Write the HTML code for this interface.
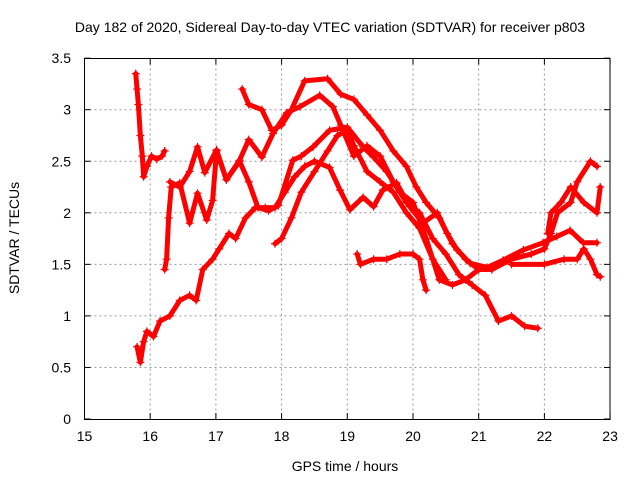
<!DOCTYPE html>
<html><head><meta charset="utf-8"><style>
body{margin:0;background:#fff;}
svg{display:block;font-family:"Liberation Sans",sans-serif;}
</style></head><body>
<svg id="chart" width="640" height="480" viewBox="0 0 640 480">
<text x="330" y="32" font-size="14" text-anchor="middle">Day 182 of 2020, Sidereal Day-to-day VTEC variation (SDTVAR) for receiver p803</text>
<text x="345" y="471" font-size="14" text-anchor="middle">GPS time / hours</text>
<text x="0" y="0" font-size="14" text-anchor="middle" transform="translate(19,238) rotate(-90)">SDTVAR / TECUs</text>
<g id="grid"></g><g id="ticks"></g><g id="marks"></g>
<rect x="84.5" y="58.5" width="525.5" height="361" fill="none" stroke="#000" stroke-width="1"/>
</svg>
<script>
const xTicks=[15,16,17,18,19,20,21,22,23];
const yTicks=[0,0.5,1,1.5,2,2.5,3,3.5];
const yTickLabels=["0","0.5","1","1.5","2","2.5","3","3.5"];
const track1=[[15.78,3.35],[15.8,3.2],[15.82,3.05],[15.85,2.75],[15.88,2.55],[15.9,2.35],[15.95,2.45],[16.02,2.55],[16.1,2.52],[16.18,2.55],[16.22,2.6]];
const track2=[[15.8,0.7],[15.85,0.55],[15.9,0.75],[15.95,0.85],[16.05,0.8],[16.15,0.95],[16.3,1.0],[16.45,1.15],[16.6,1.2],[16.7,1.15],[16.8,1.45],[16.95,1.55],[17.05,1.65],[17.2,1.8],[17.3,1.75],[17.45,1.95],[17.6,2.05],[17.75,2.05],[17.9,2.05],[18.05,2.2],[18.2,2.35],[18.35,2.45],[18.5,2.5],[18.73,2.44],[18.89,2.22],[19.04,2.03],[19.24,2.15],[19.4,2.06],[19.54,2.22],[19.75,2.29],[19.95,2.06],[20.15,1.9],[20.37,2.0],[20.52,1.8],[20.67,1.64],[20.87,1.51],[21.13,1.47],[21.37,1.54],[21.68,1.64],[21.98,1.71],[22.19,1.77],[22.39,1.83],[22.59,1.71],[22.8,1.71]];
const track3=[[16.22,1.45],[16.25,1.55],[16.28,1.95],[16.32,2.25],[16.45,2.29],[16.6,1.9],[16.72,2.19],[16.86,1.93],[16.95,2.12],[17.01,2.6],[17.16,2.32],[17.36,2.51],[17.5,2.71],[17.7,2.54],[17.87,2.77],[18.08,2.97],[18.28,3.03],[18.58,3.14],[18.78,3.03],[18.9,2.85],[19.1,2.55],[19.3,2.65],[19.5,2.55],[19.7,2.3],[19.9,2.1],[20.1,2.0],[20.3,1.75],[20.5,1.6],[20.7,1.4],[20.9,1.3],[21.1,1.2],[21.3,0.95],[21.5,1.0],[21.7,0.9],[21.9,0.88]];
const track4=[[16.3,2.3],[16.45,2.25],[16.6,2.4],[16.72,2.64],[16.83,2.39],[17.01,2.61],[17.16,2.32],[17.36,2.5],[17.5,2.3],[17.64,2.05],[17.8,2.02],[17.95,2.07],[18.17,2.51],[18.3,2.55],[18.48,2.64],[18.73,2.8],[19.0,2.83],[19.24,2.64],[19.4,2.54],[19.6,2.4],[19.8,2.2],[20.0,2.1],[20.2,1.75],[20.4,1.35],[20.6,1.3],[20.8,1.35],[21.0,1.45],[21.2,1.45],[21.5,1.55],[21.8,1.6],[22.0,1.65],[22.1,1.8],[22.2,2.0],[22.4,2.1],[22.5,2.3],[22.7,2.5],[22.8,2.45]];
const track5=[[17.4,3.2],[17.5,3.05],[17.7,3.0],[17.85,2.8],[18.0,2.85],[18.15,3.0],[18.35,3.28],[18.7,3.3],[18.9,3.15],[19.1,3.1],[19.3,2.95],[19.5,2.8],[19.7,2.6],[19.9,2.45],[20.05,2.25],[20.2,2.1],[20.4,1.95],[20.6,1.7],[20.8,1.55],[21.0,1.45],[21.2,1.45]];
const track6=[[17.9,1.7],[18.0,1.75],[18.15,1.95],[18.3,2.2],[18.5,2.4],[18.7,2.6],[18.85,2.75],[19.0,2.8],[19.1,2.65],[19.3,2.4],[19.5,2.3],[19.7,2.2],[19.9,2.0],[20.1,1.85],[20.3,1.55],[20.5,1.35]];
const track7=[[19.15,1.6],[19.2,1.5],[19.4,1.55],[19.6,1.55],[19.8,1.6],[20.0,1.6],[20.1,1.55],[20.15,1.35],[20.2,1.25]];
const track8=[[22.05,1.8],[22.1,2.0],[22.25,2.1],[22.4,2.25],[22.6,2.1],[22.8,2.0],[22.85,2.25]];
const track9=[[21.5,1.5],[22.0,1.5],[22.3,1.55],[22.5,1.55],[22.6,1.65],[22.7,1.55],[22.8,1.4],[22.85,1.38]];
const tracks=[track1,track2,track3,track4,track5,track6,track7,track8,track9];
const NS="http://www.w3.org/2000/svg";
function xs(v){return 84.5+(v-15)*65.7;}
function ys(v){return 419-v*103.1;}
const grid=document.getElementById('grid'),ticks=document.getElementById('ticks'),marks=document.getElementById('marks');
function mk(tag,parent,attrs){const e=document.createElementNS(NS,tag);for(const k in attrs)e.setAttribute(k,attrs[k]);parent.appendChild(e);return e;}
xTicks.forEach((t,i)=>{
  const x=xs(t);
  if(i>0&&i<xTicks.length-1){const g=mk('line',grid,{x1:x,y1:58.5,x2:x,y2:419,stroke:'#999','stroke-dasharray':'2,3'});
  
  }
  const tl=mk('text',ticks,{x:x,y:441,'font-size':14,'text-anchor':'middle'});tl.textContent=t;
  
  
  mk('line',ticks,{x1:x,y1:419,x2:x,y2:413,stroke:'#000'});
  mk('line',ticks,{x1:x,y1:58.5,x2:x,y2:64.5,stroke:'#000'});
});
yTicks.forEach((t,i)=>{
  const y=ys(t);
  if(i>0&&i<yTicks.length-1){const g=mk('line',grid,{x1:84.5,y1:y,x2:610,y2:y,stroke:'#999','stroke-dasharray':'2,3'});
  
  }
  const tl=mk('text',ticks,{x:71,y:y+5,'font-size':14,'text-anchor':'end'});tl.textContent=yTickLabels[i];
  
  
  mk('line',ticks,{x1:84.5,y1:y,x2:90.5,y2:y,stroke:'#000'});
  mk('line',ticks,{x1:610,y1:y,x2:604,y2:y,stroke:'#000'});
});
tracks.forEach((tr,ti)=>{
  const pl=mk('polyline',marks,{points:tr.map(p=>xs(p[0])+','+ys(p[1])).join(' '),fill:'none',stroke:'#f00','stroke-width':5,'stroke-linejoin':'round','stroke-linecap':'round'});
  
  
  tr.forEach(p=>{
    const x=xs(p[0]),y=ys(p[1]);
    const m=mk('path',marks,{d:`M${x-4},${y}H${x+4}M${x},${y-4}V${y+4}`,stroke:'#f00','stroke-width':1.2});
    
    
  });
});
</script>
</body></html>
